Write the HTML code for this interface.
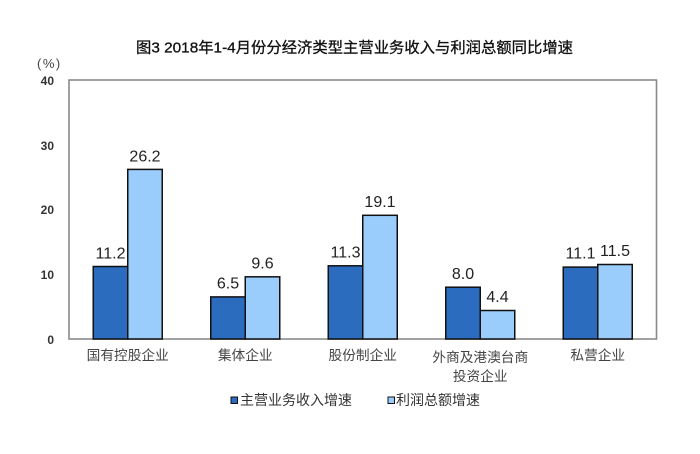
<!DOCTYPE html>
<html><head><meta charset="utf-8"><style>
html,body{margin:0;padding:0;background:#fff;}
svg{display:block;}
text{font-family:"Liberation Sans","Noto Sans CJK SC",sans-serif;}
</style></head><body>
<svg width="700" height="454" viewBox="0 0 700 454" xmlns="http://www.w3.org/2000/svg">
<rect width="700" height="454" fill="#fff"/>
<text x="136" y="52.5" font-size="15" fill="#111" stroke="#111" stroke-width="0.3" textLength="437" lengthAdjust="spacingAndGlyphs">图3 2018年1-4月份分经济类型主营业务收入与利润总额同比增速</text>
<text x="37" y="68" font-size="13" fill="#444" letter-spacing="1.5">(%)</text>
<g font-size="12" fill="#333" text-anchor="end" font-weight="bold">
<text x="54" y="85">40</text>
<text x="54" y="150">30</text>
<text x="54" y="214">20</text>
<text x="54" y="279">10</text>
<text x="54" y="344">0</text>
</g>
<rect x="69" y="80" width="587.5" height="259" fill="none" stroke="#8a8a8a" stroke-width="1.6"/>
<g stroke="#111" stroke-width="1.5">
<rect x="93.25" y="266.5" width="34.5" height="72.5" fill="#2b6cbf"/>
<rect x="127.75" y="169.4" width="34.5" height="169.6" fill="#9accfc"/>
<rect x="210.75" y="296.9" width="34.5" height="42.1" fill="#2b6cbf"/>
<rect x="245.25" y="276.8" width="34.5" height="62.2" fill="#9accfc"/>
<rect x="328.25" y="265.8" width="34.5" height="73.2" fill="#2b6cbf"/>
<rect x="362.75" y="215.3" width="34.5" height="123.7" fill="#9accfc"/>
<rect x="445.75" y="287.2" width="34.5" height="51.8" fill="#2b6cbf"/>
<rect x="480.25" y="310.5" width="34.5" height="28.5" fill="#9accfc"/>
<rect x="563.25" y="267.1" width="34.5" height="71.9" fill="#2b6cbf"/>
<rect x="597.75" y="264.5" width="34.5" height="74.5" fill="#9accfc"/>
</g>
<g font-size="16" fill="#222" text-anchor="middle">
<text x="110.5" y="258.5">11.2</text>
<text x="145" y="161.5">26.2</text>
<text x="228" y="288.5">6.5</text>
<text x="262.5" y="268.5">9.6</text>
<text x="345.5" y="257.5">11.3</text>
<text x="380" y="207">19.1</text>
<text x="463" y="279">8.0</text>
<text x="497.5" y="302">4.4</text>
<text x="580.5" y="258.5">11.1</text>
<text x="615" y="256">11.5</text>
</g>
<g font-size="13.7" fill="#444" text-anchor="middle">
<text x="127.75" y="360">国有控股企业</text>
<text x="245.25" y="360">集体企业</text>
<text x="362.75" y="360">股份制企业</text>
<text x="480.25" y="362">外商及港澳台商</text>
<text x="480.25" y="381">投资企业</text>
<text x="597.75" y="360">私营企业</text>
</g>
<rect x="231" y="397" width="6.5" height="6.5" fill="#2b6cbf" stroke="#111" stroke-width="1"/>
<text x="240" y="405" font-size="14" fill="#333" textLength="112" lengthAdjust="spacingAndGlyphs">主营业务收入增速</text>
<rect x="388" y="397" width="6.5" height="6.5" fill="#9accfc" stroke="#111" stroke-width="1"/>
<text x="396" y="405" font-size="14" fill="#333" textLength="84" lengthAdjust="spacingAndGlyphs">利润总额增速</text>
</svg>
</body></html>
